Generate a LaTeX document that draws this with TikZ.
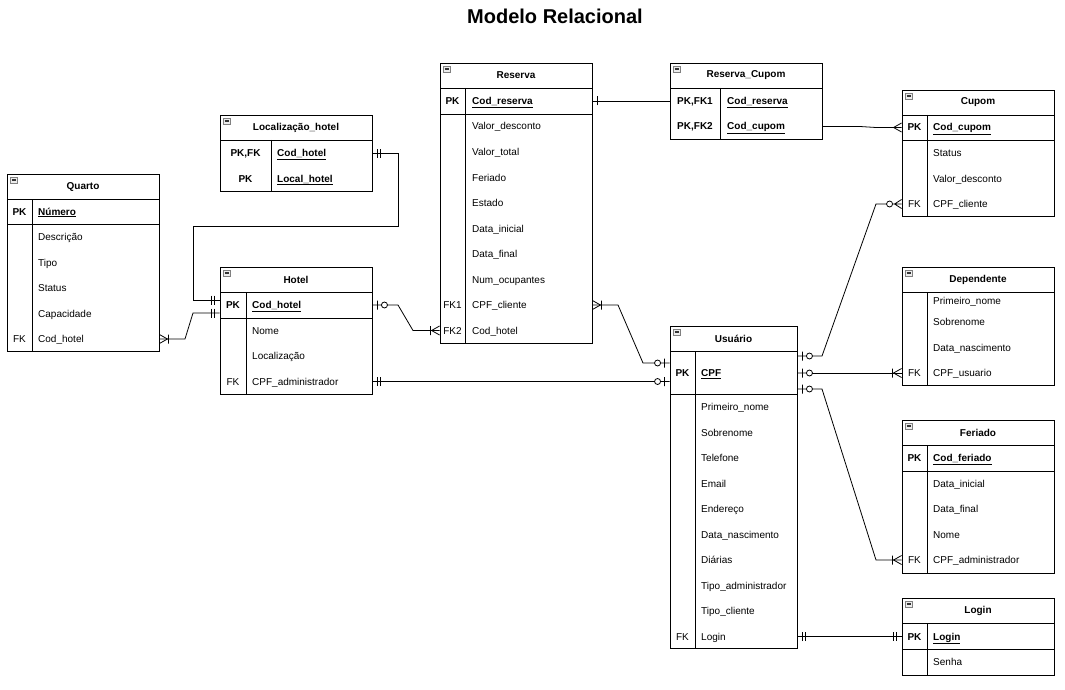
\documentclass[tikz,border=0pt]{standalone}
\usepackage{fontspec}
\setmainfont{Liberation Sans}
\usetikzlibrary{arrows.meta,fit}

% pontas de seta ER
\pgfdeclarearrow{
    name = ERone,
    setup code = {
        \pgfarrowssettipend{0pt}
        \pgfarrowssetlineend{0pt}
        \pgfarrowssetbackend{-6pt}
        \pgfarrowssetvisualbackend{-6pt}
        \pgfarrowsupperhullpoint{0pt}{4.5pt}
        \pgfarrowsupperhullpoint{-6pt}{4.5pt}
    },
    drawing code = {
        \pgfsetdash{}{0pt}
        \pgfpathmoveto{\pgfpoint{-5pt}{4.5pt}}
        \pgfpathlineto{\pgfpoint{-5pt}{-4.5pt}}
        \pgfusepathqstroke
    }
}
\pgfdeclarearrow{
    name = ERmandOne,
    setup code = {
        \pgfarrowssettipend{0pt}
        \pgfarrowssetlineend{0pt}
        \pgfarrowssetbackend{-9pt}
        \pgfarrowssetvisualbackend{-9pt}
        \pgfarrowsupperhullpoint{0pt}{4.5pt}
        \pgfarrowsupperhullpoint{-9pt}{4.5pt}
    },
    drawing code = {
        \pgfsetdash{}{0pt}
        \pgfpathmoveto{\pgfpoint{-5pt}{4.5pt}}
        \pgfpathlineto{\pgfpoint{-5pt}{-4.5pt}}
        \pgfpathmoveto{\pgfpoint{-8pt}{4.5pt}}
        \pgfpathlineto{\pgfpoint{-8pt}{-4.5pt}}
        \pgfusepathqstroke
    }
}
\pgfdeclarearrow{
    name = ERzeroOne,
    setup code = {
        \pgfarrowssettipend{0pt}
        \pgfarrowssetlineend{-15pt}
        \pgfarrowssetbackend{-15pt}
        \pgfarrowssetvisualbackend{-15pt}
        \pgfarrowsupperhullpoint{0pt}{4.5pt}
        \pgfarrowsupperhullpoint{-15pt}{4.5pt}
    },
    drawing code = {
        \pgfsetdash{}{0pt}
        \pgfpathmoveto{\pgfpoint{0pt}{0pt}}
        \pgfpathlineto{\pgfpoint{-9pt}{0pt}}
        \pgfpathmoveto{\pgfpoint{-5pt}{4.5pt}}
        \pgfpathlineto{\pgfpoint{-5pt}{-4.5pt}}
        \pgfpathcircle{\pgfpoint{-12pt}{0pt}}{3pt}
        \pgfusepathqstroke
    }
}
\pgfdeclarearrow{
    name = ERmany,
    setup code = {
        \pgfarrowssettipend{0pt}
        \pgfarrowssetlineend{0pt}
        \pgfarrowssetbackend{-8pt}
        \pgfarrowssetvisualbackend{-8pt}
        \pgfarrowsupperhullpoint{0pt}{4.5pt}
        \pgfarrowsupperhullpoint{-8pt}{0pt}
    },
    drawing code = {
        \pgfsetdash{}{0pt}
        \pgfpathmoveto{\pgfpoint{0pt}{4.5pt}}
        \pgfpathlineto{\pgfpoint{-8pt}{0pt}}
        \pgfpathlineto{\pgfpoint{0pt}{-4.5pt}}
        \pgfusepathqstroke
    }
}
\pgfdeclarearrow{
    name = ERoneMany,
    setup code = {
        \pgfarrowssettipend{0pt}
        \pgfarrowssetlineend{0pt}
        \pgfarrowssetbackend{-9pt}
        \pgfarrowssetvisualbackend{-9pt}
        \pgfarrowsupperhullpoint{0pt}{4.5pt}
        \pgfarrowsupperhullpoint{-9pt}{4.5pt}
    },
    drawing code = {
        \pgfsetdash{}{0pt}
        \pgfpathmoveto{\pgfpoint{0pt}{4.5pt}}
        \pgfpathlineto{\pgfpoint{-8pt}{0pt}}
        \pgfpathlineto{\pgfpoint{0pt}{-4.5pt}}
        \pgfpathmoveto{\pgfpoint{-9pt}{4.5pt}}
        \pgfpathlineto{\pgfpoint{-9pt}{-4.5pt}}
        \pgfusepathqstroke
    }
}
\pgfdeclarearrow{
    name = ERzeroMany,
    setup code = {
        \pgfarrowssettipend{0pt}
        \pgfarrowssetlineend{-15pt}
        \pgfarrowssetbackend{-15pt}
        \pgfarrowssetvisualbackend{-15pt}
        \pgfarrowsupperhullpoint{0pt}{4.5pt}
        \pgfarrowsupperhullpoint{-15pt}{3pt}
    },
    drawing code = {
        \pgfsetdash{}{0pt}
        \pgfpathmoveto{\pgfpoint{0pt}{4.5pt}}
        \pgfpathlineto{\pgfpoint{-7pt}{0pt}}
        \pgfpathlineto{\pgfpoint{0pt}{-4.5pt}}
        \pgfpathmoveto{\pgfpoint{0pt}{0pt}}
        \pgfpathlineto{\pgfpoint{-9pt}{0pt}}
        \pgfpathcircle{\pgfpoint{-12pt}{0pt}}{3pt}
        \pgfusepathqstroke
    }
}

\tikzset{
    tbl/.style={draw, line width=0.9pt, inner sep=0pt},
    ttl/.style={font=\bfseries, inner sep=0pt},
    fld/.style={anchor=west, inner sep=0pt, text height=7.5pt, text depth=0.5pt},
    pkf/.style={fld, font=\bfseries},
    key/.style={inner sep=0pt, text height=7.5pt, text depth=0.5pt},
    pkk/.style={key, font=\bfseries},
    rel/.style={line width=0.8pt},
    fold/.pic={
        \draw[gray, fill=gray!15, line width=0.6pt] (0,0) rectangle (7,6);
        \draw[gray!40!black, line width=1.2pt] (1.5,3) -- (5.5,3);
    }
}

\begin{document}
\begin{tikzpicture}[x=1pt, y=-1pt, font=\fontsize{10}{12}\selectfont]
                \path[fill=white, use as bounding box] (0,0) rectangle (1065,690);

                \node[font=\bfseries\fontsize{20}{24}\selectfont] (titulo) at (555,16) {Modelo Relacional};

                % Quarto
                \node[tbl, fit={(7,174) (159,351)}] (quarto) {};
                \draw[line width=0.9pt] (7,199) -- (159,199) (7,224) -- (159,224) (32,199) -- (32,351);
                \pic at (10,177) {fold};
                \node[ttl] (quarto-t) at (83,186.5) {Quarto};
                \node[pkk] (quarto-pk) at (19.5,211.5) {PK};
                \node[pkf] (quarto-0) at (38,211.5) {\underline{Número}};
                \foreach \f [count=\i] in {Descrição,Tipo,Status,Capacidade,Cod\_hotel}
                    \node[fld] (quarto-\i) at (38,{211.5+25.5*\i}) {\f};
                \node[key] (quarto-fk) at (19.5,339) {FK};

                % Localizacao_hotel
                \node[tbl, fit={(220,115) (372,191)}] (local) {};
                \draw[line width=0.9pt] (220,140) -- (372,140) (271,140) -- (271,191);
                \pic at (223,118) {fold};
                \node[ttl] (local-t) at (296,127.5) {Localização\_hotel};
                \node[pkk] (local-k1) at (245.5,153) {PK,FK};
                \node[pkk] (local-k2) at (245.5,178.5) {PK};
                \node[pkf] (local-1) at (277,153) {\underline{Cod\_hotel}};
                \node[pkf] (local-2) at (277,178.5) {\underline{Local\_hotel}};

                % Hotel
                \node[tbl, fit={(220,267) (372,394)}] (hotel) {};
                \draw[line width=0.9pt] (220,292) -- (372,292) (220,318) -- (372,318) (246,292) -- (246,394);
                \pic at (223,270) {fold};
                \node[ttl] (hotel-t) at (296,279.5) {Hotel};
                \node[pkk] (hotel-pk) at (233,305) {PK};
                \node[pkf] (hotel-0) at (252,305) {\underline{Cod\_hotel}};
                \foreach \f [count=\i] in {Nome,Localização,CPF\_administrador}
                    \node[fld] (hotel-\i) at (252,{305+25.5*\i}) {\f};
                \node[key] (hotel-fk) at (233,381.5) {FK};

                % Reserva
                \node[tbl, fit={(440,63) (592,343)}] (reserva) {};
                \draw[line width=0.9pt] (440,88) -- (592,88) (440,114) -- (592,114) (465,88) -- (465,343);
                \pic at (443,66) {fold};
                \node[ttl] (reserva-t) at (516,75.5) {Reserva};
                \node[pkk] (reserva-pk) at (452.5,101) {PK};
                \node[pkf] (reserva-0) at (472,101) {\underline{Cod\_reserva}};
                \foreach \f [count=\i] in {Valor\_desconto,Valor\_total,Feriado,Estado,Data\_inicial,Data\_final,Num\_ocupantes,CPF\_cliente,Cod\_hotel}
                    \node[fld] (reserva-\i) at (472,{101+25.5*\i}) {\f};
                \node[key] (reserva-fk1) at (452.5,305) {FK1};
                \node[key] (reserva-fk2) at (452.5,330.5) {FK2};

                % Reserva_Cupom
                \node[tbl, fit={(670,63) (822,139)}] (rescup) {};
                \draw[line width=0.9pt] (670,88) -- (822,88) (720,88) -- (720,139);
                \pic at (673,66) {fold};
                \node[ttl] (rescup-t) at (746,75.5) {Reserva\_Cupom};
                \node[pkk] (rescup-k1) at (695,101) {PK,FK1};
                \node[pkk] (rescup-k2) at (695,126.5) {PK,FK2};
                \node[pkf] (rescup-1) at (727,101) {\underline{Cod\_reserva}};
                \node[pkf] (rescup-2) at (727,126.5) {\underline{Cod\_cupom}};

                % Cupom
                \node[tbl, fit={(902,90) (1054,216)}] (cupom) {};
                \draw[line width=0.9pt] (902,115) -- (1054,115) (902,140) -- (1054,140) (927,115) -- (927,216);
                \pic at (905,93) {fold};
                \node[ttl] (cupom-t) at (978,102.5) {Cupom};
                \node[pkk] (cupom-pk) at (914.5,127.5) {PK};
                \node[pkf] (cupom-0) at (933,127.5) {\underline{Cod\_cupom}};
                \foreach \f [count=\i] in {Status,Valor\_desconto,CPF\_cliente}
                    \node[fld] (cupom-\i) at (933,{127.5+25.5*\i}) {\f};
                \node[key] (cupom-fk) at (914.5,204) {FK};

                % Dependente
                \node[tbl, fit={(902,267) (1054,385)}] (dep) {};
                \draw[line width=0.9pt] (902,292) -- (1054,292) (927,292) -- (927,385);
                \pic at (905,270) {fold};
                \node[ttl] (dep-t) at (978,279.5) {Dependente};
                \node[fld] (dep-1) at (933,301) {Primeiro\_nome};
                \node[fld] (dep-2) at (933,322) {Sobrenome};
                \node[fld] (dep-3) at (933,347.5) {Data\_nascimento};
                \node[fld] (dep-4) at (933,373) {CPF\_usuario};
                \node[key] (dep-fk) at (914.5,373) {FK};

                % Usuario
                \node[tbl, fit={(670,326) (797,648)}] (usuario) {};
                \draw[line width=0.9pt] (670,351) -- (797,351) (670,394) -- (797,394) (695,351) -- (695,648);
                \pic at (673,329) {fold};
                \node[ttl] (usuario-t) at (733.5,338.5) {Usuário};
                \node[pkk] (usuario-pk) at (682.5,373) {PK};
                \node[pkf] (usuario-0) at (701,373) {\underline{CPF}};
                \foreach \f [count=\i] in {Primeiro\_nome,Sobrenome,Telefone,Email,Endereço,Data\_nascimento,Diárias,Tipo\_administrador,Tipo\_cliente,Login}
                    \node[fld] (usuario-\i) at (701,{381.5+25.5*\i}) {\f};
                \node[key] (usuario-fk) at (682.5,636.5) {FK};

                % Feriado
                \node[tbl, fit={(902,420) (1054,573)}] (feriado) {};
                \draw[line width=0.9pt] (902,445) -- (1054,445) (902,471) -- (1054,471) (927,445) -- (927,573);
                \pic at (905,423) {fold};
                \node[ttl] (feriado-t) at (978,432.5) {Feriado};
                \node[pkk] (feriado-pk) at (914.5,458) {PK};
                \node[pkf] (feriado-0) at (933,458) {\underline{Cod\_feriado}};
                \foreach \f [count=\i] in {Data\_inicial,Data\_final,Nome,CPF\_administrador}
                    \node[fld] (feriado-\i) at (933,{458+25.5*\i}) {\f};
                \node[key] (feriado-fk) at (914.5,560) {FK};

                % Login
                \node[tbl, fit={(902,598) (1054,675)}] (login) {};
                \draw[line width=0.9pt] (902,623) -- (1054,623) (902,649) -- (1054,649) (927,623) -- (927,675);
                \pic at (905,601) {fold};
                \node[ttl] (login-t) at (978,610.5) {Login};
                \node[pkk] (login-pk) at (914.5,636.5) {PK};
                \node[pkf] (login-0) at (933,636.5) {\underline{Login}};
                \node[fld] (login-1) at (933,662) {Senha};

                % ligacoes
                \coordinate (c-local) at (398,226);
                \coordinate (c-hotel) at (193,300);
                \coordinate (q1) at (185,339);
                \coordinate (q2) at (193,313);
                \coordinate (h1) at (398,305);
                \coordinate (h2) at (413,330.5);
                \coordinate (r1) at (618,305);
                \coordinate (r2) at (643,363);
                \coordinate (rc1) at (860,126.5);
                \coordinate (rc2) at (876,127.5);
                \coordinate (u1) at (822,356);
                \coordinate (u2) at (876,204);
                \coordinate (u3) at (822,389);
                \coordinate (u4) at (876,560);

                \draw[rel, ERmandOne-ERmandOne] (local.east |- local-1) -| (c-local) -| (c-hotel) -- (hotel.west |- c-hotel);
                \draw[rel, ERoneMany-ERmandOne] (quarto.east |- quarto-5) -- (q1) -- (q2) -- (hotel.west |- q2);
                \draw[rel, ERzeroOne-ERoneMany] (hotel.east |- hotel-0) -- (h1) -- (h2) -- (reserva.west |- reserva-9);
                \draw[rel, ERmandOne-ERzeroOne] (hotel.east |- hotel-3) -- (usuario.west |- hotel-3);
                \draw[rel, ERoneMany-ERzeroOne] (reserva.east |- reserva-8) -- (r1) -- (r2) -- (usuario.west |- r2);
                \draw[rel, ERone-] (reserva.east |- reserva-0) -- (rescup.west |- reserva-0);
                \draw[rel, -ERmany] (rescup.east |- rescup-2) -- (rc1) -- (rc2) -- (cupom.west |- cupom-0);
                \draw[rel, ERzeroOne-ERzeroMany] (usuario.east |- u1) -- (u1) -- (u2) -- (cupom.west |- cupom-3);
                \draw[rel, ERzeroOne-ERoneMany] (usuario.east |- dep-4) -- (dep.west |- dep-4);
                \draw[rel, ERzeroOne-ERoneMany] (usuario.east |- u3) -- (u3) -- (u4) -- (feriado.west |- feriado-4);
                \draw[rel, ERmandOne-ERmandOne] (usuario.east |- usuario-10) -- (login.west |- usuario-10);
\end{tikzpicture}
\end{document}
